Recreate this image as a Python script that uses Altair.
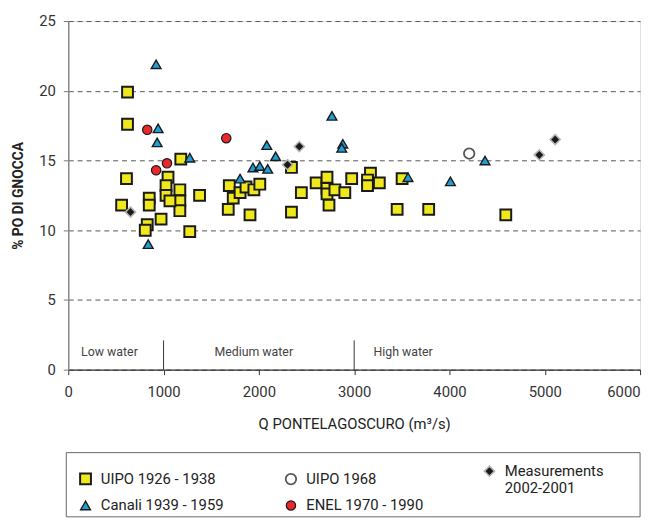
import altair as alt
import pandas as pd

# ---- data ----
uipo_x = [622, 622, 611, 560, 1181, 1047, 1026, 1026, 1171, 1171, 1171, 1067, 850, 850,
          974, 829, 808, 1275, 1378, 1690, 1731, 1679, 1803, 1865, 1948, 2010, 1907, 2342,
          2446, 2342, 2601, 2715, 2715, 2715, 2798, 2902, 2736, 2974, 3171, 3140, 3140,
          3264, 3503, 3451, 3782, 4591]
uipo_y = [19.9, 17.6, 13.7, 11.8, 15.1, 13.8, 13.2, 12.5, 12.9, 12.1, 11.4, 12.1, 12.3, 11.8,
          10.8, 10.4, 10.0, 9.9, 12.5, 13.2, 12.3, 11.5, 12.7, 13.1, 12.9, 13.3, 11.1, 14.5,
          12.7, 11.3, 13.4, 13.8, 13.0, 12.6, 12.9, 12.7, 11.8, 13.7, 14.1, 13.6, 13.2,
          13.4, 13.7, 11.5, 11.5, 11.1]

canali_x = [922, 943, 933, 1275, 839, 2083, 2176, 1938, 2010, 2093, 1803, 2767, 2881, 2870,
            3565, 4010, 4373]
canali_y = [21.9, 17.3, 16.3, 15.2, 9.0, 16.1, 15.3, 14.5, 14.6, 14.4, 13.7, 18.2, 16.2, 15.9,
            13.8, 13.5, 15.0]

enel_x = [829, 922, 1036, 1658]
enel_y = [17.2, 14.3, 14.8, 16.6]

uipo68_x = [4207]
uipo68_y = [15.5]

meas_x = [653, 2425, 2301, 4943, 5109]
meas_y = [11.3, 16.0, 14.7, 15.4, 16.5]

series_names = ["UIPO 1926 - 1938", "UIPO 1968", "Measurements 2002-2001",
                "Canali 1939 - 1959", "ENEL 1970 - 1990"]

zone_labels = ["Low water", "Medium water", "High water"]
zone_x = [135, 1534, 3202]
zone_y = [1.3, 1.3, 1.3]

divider_x = [1000, 3000]
divider_y2 = [2.1, 2.1]

x_ticks = [0, 1000, 2000, 3000, 4000, 5000, 6000]
y_ticks = [0, 5, 10, 15, 20, 25]

# ---- build tables ----
rows = []
for name, xs, ys in [
    ("UIPO 1926 - 1938", uipo_x, uipo_y),
    ("ENEL 1970 - 1990", enel_x, enel_y),
    ("UIPO 1968", uipo68_x, uipo68_y),
    ("Canali 1939 - 1959", canali_x, canali_y),
    ("Measurements 2002-2001", meas_x, meas_y),
]:
    for a, b in zip(xs, ys):
        rows.append({"Q": a, "P": b, "series": name})
points_df = pd.DataFrame(rows)

zones_df = pd.DataFrame({"x": zone_x, "y": zone_y, "label": zone_labels})
div_df = pd.DataFrame({"x": divider_x, "y": [0, 0], "y2": divider_y2})

FONT = "Roboto"

xscale = alt.Scale(domain=[0, 6000], nice=False, zero=True)
yscale = alt.Scale(domain=[0, 25], nice=False)

legend = alt.Legend(
    title=None, orient="none", legendX=0, legendY=438, direction="horizontal",
    columns=3, gridAlign="each", columnPadding=58, rowPadding=2, padding=10,
    labelFont=FONT, labelFontSize=15,
    labelColor="#222222", labelOffset=8, labelLimit=300,
    labelExpr="datum.label == 'Measurements 2002-2001' ? ['Measurements', '2002-2001'] : datum.label",
)

points = alt.Chart(points_df).mark_point(filled=True, opacity=1).encode(
    x=alt.X("Q:Q", scale=xscale,
            axis=alt.Axis(values=x_ticks, format="d", title="Q PONTELAGOSCURO (m³/s)", grid=False,
                          labelFont=FONT, labelFontSize=15, labelColor="#333333",
                          labelPadding=10, tickSize=5, tickColor="#333333",
                          domainColor="#333333", domainWidth=1.2,
                          titleFont=FONT, titleFontSize=15, titleFontWeight="normal",
                          titleColor="#222222", titlePadding=18,
                          labelAlign={"condition": {"test": "datum.value == 6000", "value": "right"},
                                      "value": "center"})),
    y=alt.Y("P:Q", scale=yscale,
            axis=alt.Axis(values=y_ticks, format="d", title="% PO DI GNOCCA", grid=True,
                          gridColor="#555555", gridDash=[5, 4], gridWidth=1,
                          labelFont=FONT, labelFontSize=15, labelColor="#333333",
                          labelPadding=8, tickSize=5, tickColor="#777777",
                          domainColor="#888888", domainWidth=1.5,
                          titleFont=FONT, titleFontSize=14, titleFontWeight="bold",
                          titleColor="#222222", titlePadding=13)),
    shape=alt.Shape("series:N", scale=alt.Scale(
        domain=series_names, range=["square", "circle", "diamond", "triangle-up", "circle"]),
        legend=legend),
    fill=alt.Fill("series:N", scale=alt.Scale(
        domain=series_names, range=["#efe81c", "#ffffff", "#1a1a1a", "#1e9fd6", "#e8282b"])),
    stroke=alt.Stroke("series:N", scale=alt.Scale(
        domain=series_names, range=["#1a1a1a", "#555555", "#b5b5b5", "#1a1a1a", "#1a1a1a"])),
    size=alt.Size("series:N", scale=alt.Scale(
        domain=series_names, range=[120, 90, 40, 100, 110])),
    strokeWidth=alt.StrokeWidth("series:N", scale=alt.Scale(
        domain=series_names, range=[2, 1.2, 3, 2, 1.8])),
)

zones = alt.Chart(zones_df).mark_text(
    align="left", baseline="middle", font=FONT, fontSize=12.5, color="#444444"
).encode(x=alt.X("x:Q", scale=xscale), y=alt.Y("y:Q", scale=yscale), text="label:N")

dividers = alt.Chart(div_df).mark_rule(color="#333333", strokeWidth=1).encode(
    x=alt.X("x:Q", scale=xscale), y=alt.Y("y:Q", scale=yscale), y2="y2:Q")

# frame around the legend (spans the plot width, as in the reference)
legend_frame = alt.Chart(pd.DataFrame({"k": [0]})).mark_rect(
    fill="white", fillOpacity=0, stroke="#666666", strokeWidth=1
).encode(x=alt.value(-2), x2=alt.value(579), y=alt.value(437), y2=alt.value(502))

chart = alt.layer(legend_frame, dividers, zones, points).properties(
    width=579, height=353,
    autosize=alt.AutoSizeParams(type="none"),
    padding={"left": 61, "top": 10, "right": 6, "bottom": 150},
).configure_view(stroke=None).configure(background="white")

chart.save("out.html", embed_options={"renderer": "svg", "actions": False})
